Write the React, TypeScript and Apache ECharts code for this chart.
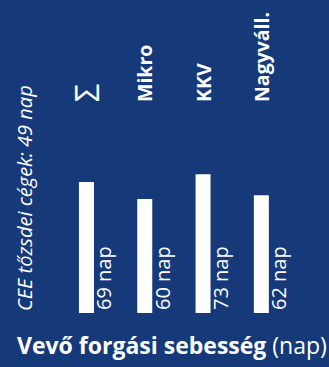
import React, { useEffect, useRef } from "react";
import * as echarts from "echarts";

const categories = ["Σ", "Mikro", "KKV", "Nagyváll."];
const values = [69, 60, 73, 62];
const unit = "nap";
const benchmarkText = "CEE tőzsdei cégek: 49 nap";
const titleBold = "Vevő forgási sebesség";
const titleRegular = "(nap)";

const BG = "#16397a";
const FONT = "'Open Sans', 'Noto Sans', sans-serif";

export default function App() {
  const ref = useRef<HTMLDivElement>(null);
  useEffect(() => {
    if (!ref.current) return;
    const chart = echarts.init(ref.current, undefined, { renderer: "svg" });
    chart.setOption({
      animation: false,
      backgroundColor: BG,
      title: {
        text: `{b|${titleBold} }{r|${titleRegular}}`,
        left: 17,
        top: 333,
        padding: 0,
        textStyle: {
          rich: {
            b: { fontFamily: FONT, fontWeight: "bold", fontSize: 23, color: "#fff" },
            r: { fontFamily: FONT, fontWeight: "normal", fontSize: 23, color: "#fff" },
          },
        },
      },
      grid: { left: 57.3, right: 38.5, top: 104, bottom: 54 },
      xAxis: {
        type: "category",
        position: "top",
        data: categories,
        axisLine: { show: false },
        axisTick: { show: false },
        axisLabel: {
          rotate: 90,
          margin: 2,
          color: "#fff",
          fontFamily: FONT,
          fontWeight: "bold",
          fontSize: 19.5,
          formatter: (v: string) => (v === "Σ" ? `{s|${v}}` : v),
          rich: {
            s: {
              fontFamily: FONT,
              fontWeight: "normal",
              fontSize: 32,
              color: "#fff",
            },
          },
        },
      },
      yAxis: {
        type: "value",
        min: 0,
        max: 110,
        show: false,
        splitLine: { show: false },
      },
      graphic: [
        {
          type: "text",
          x: 34,
          y: 311,
          rotation: Math.PI / 2,
          style: {
            text: benchmarkText,
            fill: "#fff",
            font: `italic 20px ${FONT}`,
            textAlign: "left",
            textVerticalAlign: "bottom",
          },
        },
      ],
      series: [
        {
          type: "bar",
          data: values,
          barWidth: 15,
          itemStyle: { color: "#fff" },
          label: {
            show: true,
            position: ["100%", "100%"],
            rotate: 90,
            align: "left",
            verticalAlign: "top",
            offset: [3, 0],
            color: "#fff",
            fontFamily: FONT,
            fontSize: 20,
            formatter: (p: any) => `${p.value} ${unit}`,
          },
        },
      ],
    });
    return () => chart.dispose();
  }, []);
  return (
    <div
      ref={ref}
      style={{ position: "fixed", left: 0, top: 0, width: 329, height: 367 }}
    />
  );
}
